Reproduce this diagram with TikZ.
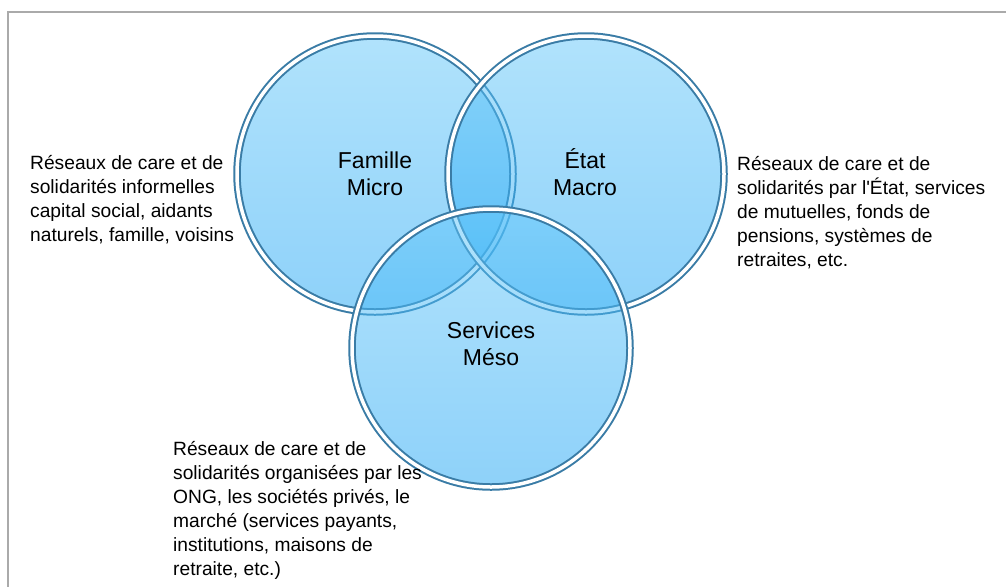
\documentclass[tikz,border=0pt]{standalone}
\usepackage{fontspec}
\setmainfont{Liberation Sans}
\newfontfamily\plainsans{Liberation Sans}
\definecolor{ringblue}{RGB}{58,124,166}
\definecolor{frameg}{RGB}{170,170,170}
\definecolor{fillTop}{RGB}{100,200,250}
\definecolor{fillBot}{RGB}{30,165,245}
\tikzset{
  disc/.style={top color=fillTop, bottom color=fillBot, fill opacity=0.5},
  ringout/.style={draw=ringblue, line width=7.5pt},
  ringin/.style={draw=white, line width=3.5pt},
  clabel/.style={font=\plainsans\fontsize{23}{27}\selectfont, align=center, inner sep=0pt, anchor=base},
  desc/.style={font=\plainsans\fontsize{19.2}{24}\selectfont, align=left, inner sep=0pt, anchor=base west},
}
\begin{document}
\begin{tikzpicture}[x=1pt,y=-1pt]
\useasboundingbox (0,0) rectangle (1006,587);
\fill[white] (0,0) rectangle (1006,587);
\draw[frameg, line width=1.5pt] (1006,12) -- (8,12) -- (8,587);
\coordinate (cF) at (375,174);
\coordinate (cE) at (586,174);
\coordinate (cS) at (491,348);
% left circle
\shade[disc] (cF) circle[radius=139pt];
\draw[ringout] (cF) circle[radius=138pt];
\draw[ringin] (cF) circle[radius=138pt];
% right circle
\shade[disc] (cE) circle[radius=139pt];
\draw[ringout] (cE) circle[radius=138pt];
\draw[ringin] (cE) circle[radius=138pt];
% bottom circle
\shade[disc] (cS) circle[radius=140pt];
\draw[ringout] (cS) circle[radius=139pt];
\draw[ringin] (cS) circle[radius=139pt];
% labels (base anchor = last line baseline)
\node[clabel] (famille) at (375,195) {Famille\\Micro};
\node[clabel] (etat) at (585,195) {État\\Macro};
\node[clabel] (services) at (491,365) {Services\\Méso};
% descriptions
\node[desc] (dleft) at (30,241) {Réseaux de care et de\\solidarités informelles\\capital social, aidants\\naturels, famille, voisins};
\node[desc] (dright) at (737,266) {Réseaux de care et de\\solidarités par l'État, services\\de mutuelles, fonds de\\pensions, systèmes de\\retraites, etc.};
\node[desc] (dbottom) at (173,575) {Réseaux de care et de\\solidarités organisées par les\\ONG, les sociétés privés, le\\marché (services payants,\\institutions, maisons de\\retraite, etc.)};
\end{tikzpicture}
\end{document}
